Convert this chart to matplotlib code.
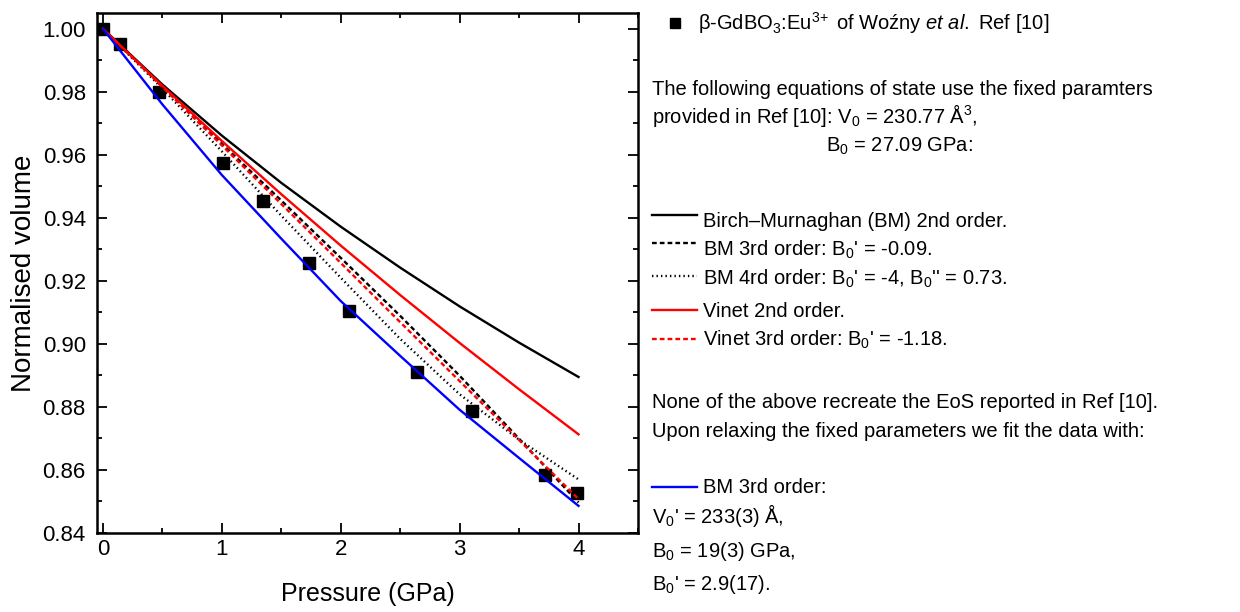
import matplotlib
matplotlib.use("Agg")
import matplotlib.pyplot as plt
from matplotlib.ticker import MultipleLocator, FormatStrFormatter

plt.rcParams['font.family'] = ['Liberation Sans', 'DejaVu Sans']
plt.rcParams['mathtext.fontset'] = 'custom'
plt.rcParams['mathtext.rm'] = 'Liberation Sans'
plt.rcParams['mathtext.it'] = 'Liberation Sans:italic'
plt.rcParams['mathtext.bf'] = 'Liberation Sans:bold'

# measured data (Wozny et al.)
exp_pressure = [0.0, 0.14, 0.47, 1.01, 1.35, 1.73, 2.07, 2.64, 3.10, 3.72, 3.99]
exp_volume = [1.000, 0.9952, 0.9800, 0.9575, 0.9454, 0.9257, 0.9105, 0.8911, 0.8787, 0.8584, 0.8527]

# equation-of-state curves
eos_pressure = [0, 0.5, 1, 1.5, 2, 2.5, 3, 3.5, 4]
bm2_volume = [1.0, 0.9823, 0.9661, 0.9511, 0.9372, 0.9242, 0.9119, 0.9004, 0.8895]
bm3_volume = [1.0, 0.9817, 0.9635, 0.9455, 0.9273, 0.9089, 0.8899, 0.8699, 0.8497]
bm4_volume = [1.0, 0.9810, 0.9611, 0.9407, 0.9210, 0.9016, 0.8840, 0.8696, 0.8570]
vinet2_volume = [1.0, 0.9819, 0.9644, 0.9475, 0.9312, 0.9155, 0.9003, 0.8856, 0.8713]
vinet3_volume = [1.0, 0.9815, 0.9630, 0.9444, 0.9257, 0.9069, 0.8882, 0.8695, 0.8508]
fit_volume = [1.0, 0.9760, 0.9536, 0.9334, 0.9136, 0.8962, 0.8791, 0.8638, 0.8486]

DASH = (2.0, 1.3)
DOT = (0.6, 1.3)
LW = 1.7

fig = plt.figure(figsize=(12.4, 6.12), dpi=100)
ax = fig.add_axes([0.0782, 0.1291, 0.4363, 0.8497])

ax.plot(exp_pressure, exp_volume, 's', color='black', ms=8.5, zorder=2)
ax.plot(eos_pressure, bm2_volume, '-', color='black', lw=LW, zorder=3)
ax.plot(eos_pressure, bm3_volume, color='black', lw=LW, dashes=DASH, zorder=3)
ax.plot(eos_pressure, bm4_volume, color='black', lw=LW, dashes=DOT, zorder=3)
ax.plot(eos_pressure, vinet2_volume, '-', color='red', lw=LW, zorder=3)
ax.plot(eos_pressure, vinet3_volume, color='red', lw=LW, dashes=DASH, zorder=3)
ax.plot(eos_pressure, fit_volume, '-', color='blue', lw=LW, zorder=3)

ax.set_xlim(-0.05, 4.5)
ax.set_ylim(0.84, 1.005)
ax.xaxis.set_major_locator(MultipleLocator(1))
ax.xaxis.set_minor_locator(MultipleLocator(0.5))
ax.yaxis.set_major_locator(MultipleLocator(0.02))
ax.yaxis.set_minor_locator(MultipleLocator(0.01))
ax.yaxis.set_major_formatter(FormatStrFormatter('%.2f'))
ax.tick_params(which='both', direction='in', top=True, right=True, width=1.3)
ax.tick_params(which='major', length=7, labelsize=16)
ax.tick_params(which='minor', length=3.5)
ax.tick_params(axis='y', which='major', pad=8)
ax.tick_params(axis='x', which='major', pad=4)
for s in ax.spines.values():
    s.set_linewidth(1.8)
ax.set_xlabel('Pressure (GPa)', fontsize=18, labelpad=16)
ax.set_ylabel('Normalised volume', fontsize=20, labelpad=4)

# annotation panel on the right, laid out in pixel units
tx = fig.add_axes([0, 0, 1, 1])
tx.set_xlim(0, 1240)
tx.set_ylim(612, 0)
tx.axis('off')
fs = 14.5

tx.plot([675], [23], 's', color='black', ms=7)
tx.text(698, 30, r'β-GdBO$_3$:Eu$^{3\!+}$ of Woźny $\mathit{et}$ $\mathit{al.}$ Ref [10]', fontsize=fs)
tx.text(652, 95, 'The following equations of state use the fixed paramters', fontsize=fs)
tx.text(652, 123, r'provided in Ref [10]: V$_0$ = 230.77 Å$^3$,', fontsize=fs)
tx.text(899, 152, r'B$_0$ = 27.09 GPa:', fontsize=fs, ha='center')

legend_rows = [
    (215, 227, 'black', None, 'Birch–Murnaghan (BM) 2nd order.'),
    (243, 256, 'black', DASH, r"BM 3rd order: B$_0$' = -0.09."),
    (276, 285, 'black', DOT, r"BM 4rd order: B$_0$' = -4, B$_0$'' = 0.73."),
    (310, 317, 'red', None, 'Vinet 2nd order.'),
    (339, 346, 'red', DASH, r"Vinet 3rd order: B$_0$' = -1.18."),
    (487, 493, 'blue', None, 'BM 3rd order:'),
]
for ly, ty, c, d, label in legend_rows:
    if d is None:
        tx.plot([652, 697], [ly, ly], color=c, lw=LW)
    else:
        tx.plot([652, 697], [ly, ly], color=c, lw=LW, dashes=d)
    tx.text(703, ty, label, fontsize=fs)

tx.text(652, 408, 'None of the above recreate the EoS reported in Ref [10].', fontsize=fs)
tx.text(652, 437, 'Upon relaxing the fixed parameters we fit the data with:', fontsize=fs)
tx.text(652, 523, r"V$_0$' = 233(3) Å,", fontsize=fs)
tx.text(652, 557, r'B$_0$ = 19(3) GPa,', fontsize=fs)
tx.text(652, 590, r"B$_0$' = 2.9(17).", fontsize=fs)

fig.savefig('out.png', dpi=100)
